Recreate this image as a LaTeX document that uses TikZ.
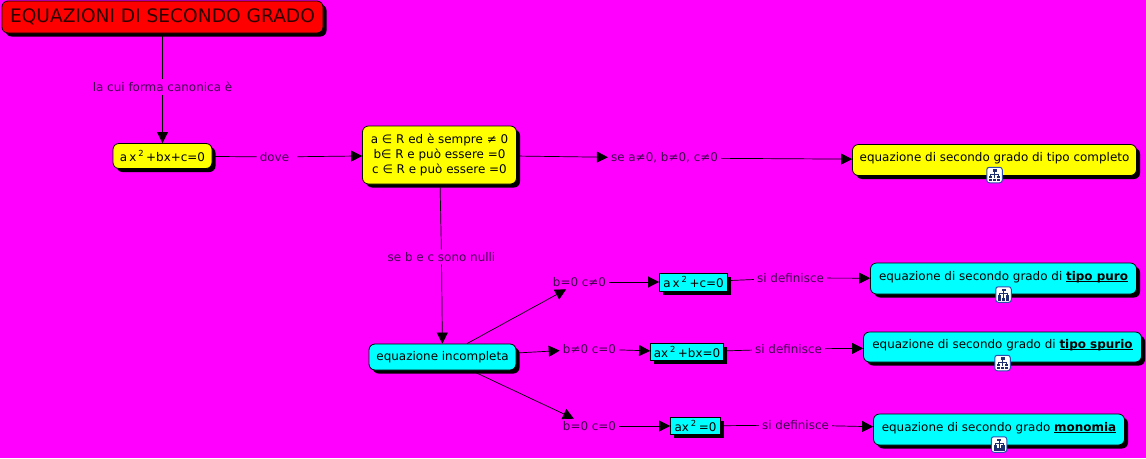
\documentclass[tikz,border=0pt]{standalone}
\usepackage{fontspec}
\setmainfont{DejaVu Sans}
\usetikzlibrary{arrows.meta,positioning,shadows,backgrounds}
\definecolor{PageMagenta}{HTML}{FF00FF}
\definecolor{TitleRed}{HTML}{FF0000}
\definecolor{TitleInk}{HTML}{300000}
\definecolor{BoxYellow}{HTML}{FFFF00}
\definecolor{BoxCyan}{HTML}{00FFFF}
\definecolor{LabelInk}{HTML}{40004E}
\definecolor{IconBlue}{HTML}{2A4FB0}
\definecolor{IconDark}{HTML}{1C2F70}
\newcommand{\sqr}{\,\textsuperscript{2}\,}
\newcommand{\linked}[1]{\sbox0{\textbf{#1}}\usebox0\llap{\rule[-1.7pt]{\wd0}{1pt}}}

\begin{document}
\begin{tikzpicture}[
      x=1pt, y=1pt,
      on grid,
      font=\fontsize{11.95}{14.8}\selectfont,
      base/.style={
        draw=black,
        line width=0.8pt,
        align=center,
        inner sep=0pt,
        drop shadow={shadow xshift=3.5pt, shadow yshift=-3.5pt, fill=black, opacity=1}
      },
      roundbox/.style={base, rounded corners=6pt},
      yellowbox/.style={roundbox, fill=BoxYellow},
      cyanbox/.style={roundbox, fill=BoxCyan},
      raised/.style={text height=14pt, text depth=11pt},
      formula/.style={base, fill=BoxCyan},
      lab/.style={text=LabelInk, inner xsep=3pt, inner ysep=2.5pt},
      link/.style={draw=black, line width=0.7pt},
      flow/.style={link, -{Triangle[length=11pt, width=11pt]}},
      iconpart/.style={fill=IconDark},
      mapicon/.style={
        draw=IconBlue, fill=white, rounded corners=2.5pt, line width=1pt,
        minimum size=15.5pt, inner sep=0pt
      }
    ]
      \useasboundingbox (0,0) rectangle (1146,-458);
      \begin{scope}[on background layer]
        \fill[PageMagenta] (0,0) rectangle (1146,-458);
      \end{scope}

      % top of the map
      \node[roundbox, fill=TitleRed, text=TitleInk, minimum width=321pt, minimum height=32pt, font=\fontsize{18.6}{22}\selectfont] (title) at (162.5,-17) {EQUAZIONI DI SECONDO GRADO};
      \node[lab, below=70pt of title] (forma) {la cui forma canonica è};
      \node[yellowbox, minimum width=99pt, minimum height=25pt, below=69pt of forma] (canon) {a\,x\sqr+bx+c=0};
      \node[lab, below right=1pt and 112pt of canon] (dove) {dove};
      \node[yellowbox, minimum width=154pt, minimum height=58pt, above right=2pt and 165pt of dove] (coeff) {a ∈ R ed è sempre ≠ 0\\b∈ R e può essere =0\\c ∈ R e può essere =0};
      \node[lab, below right=3pt and 225pt of coeff] (secompl) {se a≠0, b≠0, c≠0};
      \node[yellowbox, raised, minimum width=284pt, minimum height=31pt, below right=2pt and 330pt of secompl] (compl) {equazione di secondo grado di tipo completo};
      \node[mapicon, below=15pt of compl] (iconcompl) {};

      % incomplete branch
      \node[lab, below right=102pt and 2pt of coeff] (nulli) {se b e c sono nulli};
      \node[cyanbox, minimum width=147pt, minimum height=26pt, below right=100pt and 1pt of nulli] (incompl) {equazione incompleta};
      \node[lab, above right=75pt and 137pt of incompl] (casopuro) {b=0 c≠0};
      \node[lab, above right=8pt and 147pt of incompl] (casospurio) {b≠0 c=0};
      \node[lab, below right=69pt and 147pt of incompl] (casomono) {b=0 c=0};

      \node[formula, minimum width=68pt, minimum height=18pt, right=114pt of casopuro] (fpuro) {a\,x\sqr+c=0};
      \node[formula, minimum width=73pt, minimum height=17pt, below right=3pt and 97.5pt of casospurio] (fspurio) {ax\sqr+bx=0};
      \node[formula, minimum width=50pt, minimum height=17pt, right=106pt of casomono] (fmono) {ax\sqr=0};

      \node[lab, above right=4pt and 97pt of fpuro] (defpuro) {si definisce};
      \node[lab, above right=3pt and 101.5pt of fspurio] (defspurio) {si definisce};
      \node[lab, above right=1pt and 100pt of fmono] (defmono) {si definisce};

      \node[cyanbox, raised, minimum width=266pt, minimum height=31pt, below right=0.5pt and 213pt of defpuro] (tpuro) {equazione di secondo grado di \linked{tipo puro}};
      \node[cyanbox, raised, minimum width=278pt, minimum height=30pt, above right=2pt and 214pt of defspurio] (tspurio) {equazione di secondo grado di \linked{tipo spurio}};
      \node[cyanbox, raised, minimum width=251pt, minimum height=31pt, below right=4.5pt and 203.5pt of defmono] (tmono) {equazione di secondo grado \linked{monomia}};
      \node[mapicon, below=16pt of tpuro] (iconpuro) {};
      \node[mapicon, below=16pt of tspurio] (iconspurio) {};
      \node[mapicon, below=15pt of tmono] (iconmono) {};

      % little tree inside each icon
      \foreach \ic in {iconcompl,iconpuro,iconspurio,iconmono} {
        \draw[IconDark, line width=0.5pt] (\ic.center) ++(0,4) -- ++(0,-7)
          (\ic.center) ++(-3.8,-2) -- ++(0,3) -- ++(7.6,0) -- ++(0,-3);
        \fill[iconpart] (\ic.center) ++(-2,6) rectangle ++(4,-2.8);
        \fill[iconpart] (\ic.center) ++(-5.5,-0.5) rectangle ++(3.4,-2.5);
        \fill[iconpart] (\ic.center) ++(2.1,-0.5) rectangle ++(3.4,-2.5);
        \fill[iconpart] (\ic.center) ++(-5.5,-3.8) rectangle ++(3.4,-2.2);
        \fill[iconpart] (\ic.center) ++(-1.7,-3.8) rectangle ++(3.4,-2.2);
        \fill[iconpart] (\ic.center) ++(2.1,-3.8) rectangle ++(3.4,-2.2);
      }

      \begin{scope}[on background layer]
        \draw[link] (title) -- (forma);
        \draw[flow] (forma) -- (canon);
        \draw[link] (canon) -- (dove);
        \draw[flow, shorten <=5pt] (dove) -- (coeff);
        \draw[flow] (coeff) -- (secompl);
        \draw[flow] (secompl) -- (compl);
        \draw[link] (coeff) -- (nulli);
        \draw[flow] (nulli) -- (incompl);
        \draw[flow] (incompl) -- (casopuro);
        \draw[flow] (incompl) -- (casospurio);
        \draw[flow] (incompl) -- (casomono);
        \draw[flow] (casopuro) -- (fpuro);
        \draw[flow] (casospurio) -- (fspurio);
        \draw[flow] (casomono) -- (fmono);
        \draw[link] (fpuro) -- (defpuro);
        \draw[link] (fspurio) -- (defspurio);
        \draw[link] (fmono) -- (defmono);
        \draw[flow] (defpuro) -- (tpuro);
        \draw[flow] (defspurio) -- (tspurio);
        \draw[flow] (defmono) -- (tmono);
      \end{scope}
    \end{tikzpicture}
\end{document}
